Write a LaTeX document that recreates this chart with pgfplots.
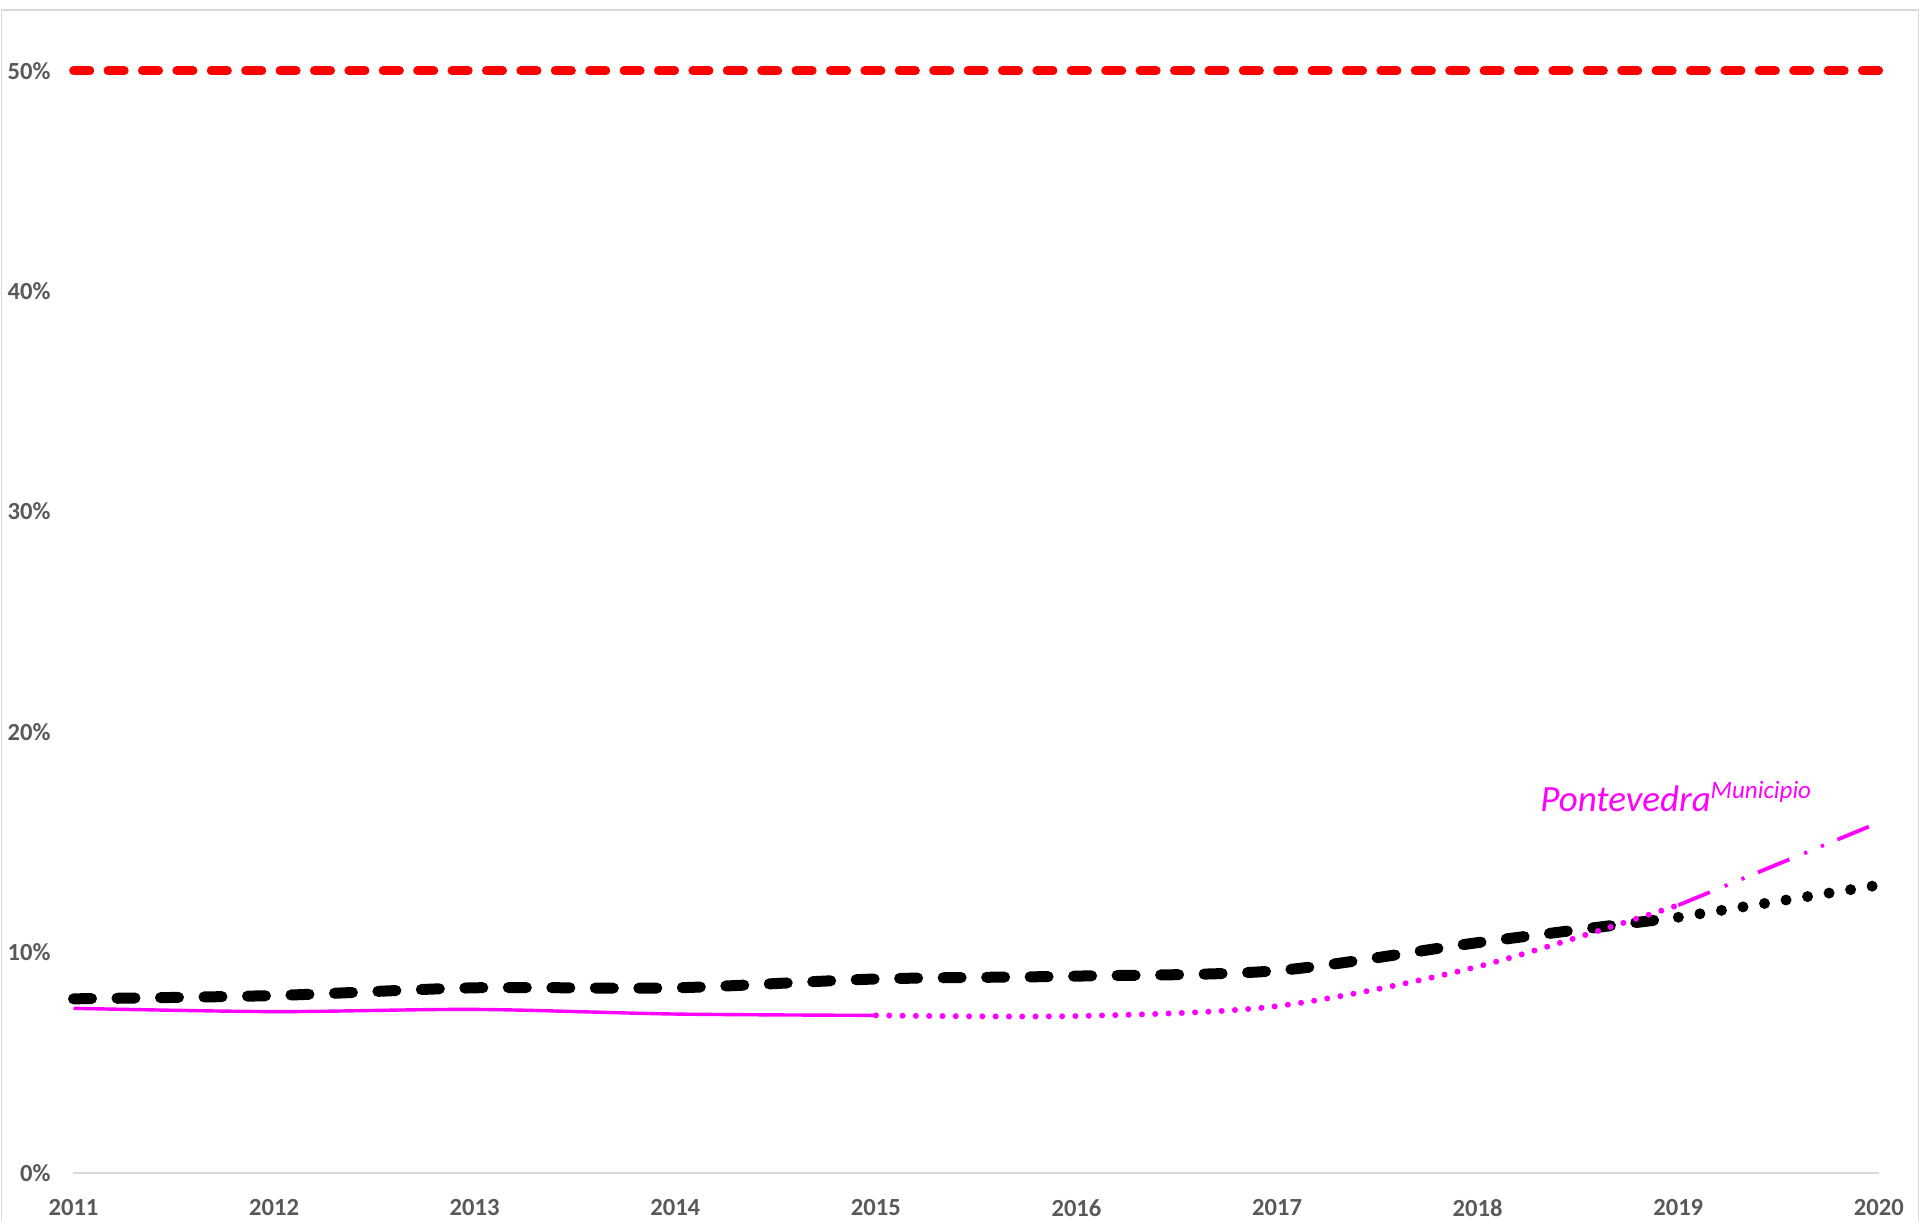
\documentclass[border=0pt]{standalone}
\usepackage{fontspec}
\setmainfont{Carlito}
\usepackage{pgfplots}
\pgfplotsset{compat=1.18}
\definecolor{txt}{HTML}{595959}
\definecolor{gridc}{HTML}{D9D9D9}
\definecolor{mag}{HTML}{FF00FF}
\definecolor{redl}{HTML}{FF0000}
\begin{document}
\begin{tikzpicture}
\useasboundingbox (0,0) rectangle (960pt,610pt);
\draw[color=gridc, line width=0.9pt] (0.75pt,-5pt) -- (0.75pt,605pt) -- (959.25pt,605pt) -- (959.25pt,-5pt);
\begin{axis}[
  at={(36.75pt,23.5pt)}, anchor=south west,
  scale only axis, width=902.75pt, height=551.15pt,
  xmin=2011, xmax=2020, ymin=0, ymax=50,
  clip=false,
  axis x line*=bottom, axis y line*=left,
  x axis line style={draw=gridc, line width=1pt},
  y axis line style={draw=none},
  tick style={draw=none},
  xtick={2011,2012,...,2020},
  ytick={0,10,...,50},
  yticklabel={\pgfmathprintnumber{\tick}\%},
  /pgf/number format/assume math mode=true,
  /pgf/number format/set thousands separator={},
  ticklabel style={font=\bfseries\fontsize{12.3}{14}\selectfont, text=txt},
  xticklabel style={anchor=north, yshift=-9.8pt},
  yticklabel style={anchor=east, xshift=-8pt},
]
% 50% reference line
\addplot[redl, line width=4.35pt, line cap=round, dash pattern=on 8.2pt off 9pt] coordinates {(2011,50) (2020,50)};
% Black series dashed 2011-2019
\addplot[black, line width=5.5pt, line cap=round, smooth, tension=0.5, dash pattern=on 9pt off 12.75pt] coordinates {
(2011,7.9) (2012,8.05) (2013,8.4) (2014,8.4) (2015,8.8) (2016,8.93) (2017,9.18) (2018,10.45) (2019,11.6)};
% Black dotted 2019-2020
\addplot[black, line width=5.5pt, line cap=round, dash pattern=on 0pt off 10.9pt] coordinates {
(2019,11.6) (2020,13.06)};
% Magenta solid 2011-2015
\addplot[mag, line width=1.7pt, smooth, tension=0.5] coordinates {
(2011,7.47) (2012,7.32) (2013,7.42) (2014,7.21) (2015,7.15)};
% Magenta dotted 2015-2019
\addplot[mag, line width=3pt, line cap=round, smooth, tension=0.5, dash pattern=on 0pt off 6.65pt] coordinates {
(2015,7.15) (2016,7.12) (2017,7.57) (2018,9.36) (2019,12.15)};
% Magenta long dash dot dot 2019-2020
\addplot[mag, line width=1.9pt, dash pattern=on 17pt off 8pt on 1.6pt off 7.5pt on 1.6pt off 7.3pt] coordinates {
(2019,12.15) (2020,15.9)};
\node[anchor=base west, inner sep=0pt, text=mag, font=\itshape] at (axis cs:2018.31,16.42)
  {\fontsize{18.5}{20}\selectfont Pontevedra\raisebox{6.5pt}{\fontsize{12.5}{13}\selectfont Municipio}};
\end{axis}
\end{tikzpicture}
\end{document}
